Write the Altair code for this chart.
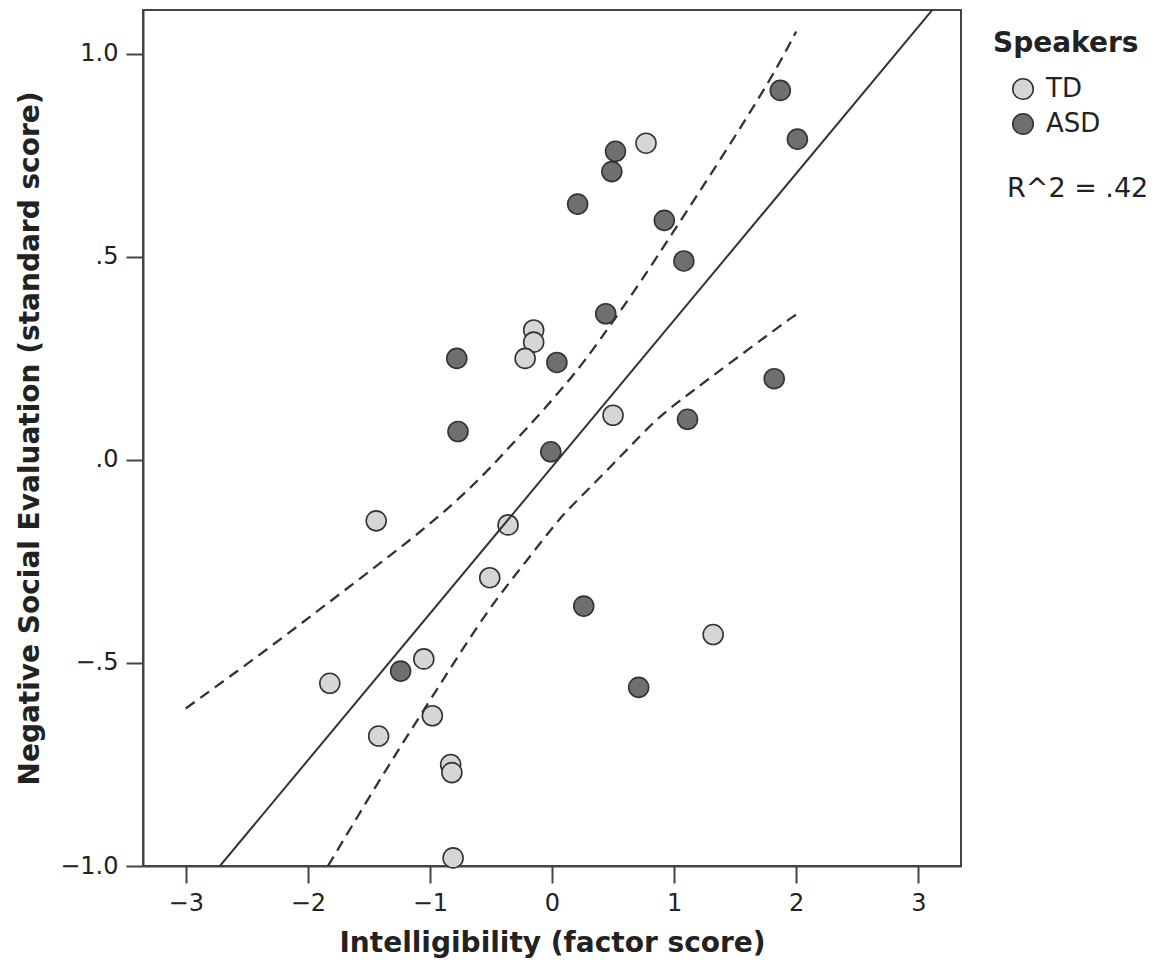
import altair as alt
import pandas as pd

# ---- data ----
td_x = [0.77, -0.15, -0.15, -0.22, 0.50, -1.44, -0.36, -0.51, 1.32, -1.82, -1.05, -0.98, -1.42, -0.83, -0.82, -0.81]
td_y = [0.78, 0.32, 0.29, 0.25, 0.11, -0.15, -0.16, -0.29, -0.43, -0.55, -0.49, -0.63, -0.68, -0.75, -0.77, -0.98]

asd_x = [1.87, 2.01, 0.52, 0.49, 0.21, 0.92, 1.08, 0.44, -0.78, 0.04, 1.82, 1.11, -0.77, -0.01, 0.26, 0.71, -1.24]
asd_y = [0.91, 0.79, 0.76, 0.71, 0.63, 0.59, 0.49, 0.36, 0.25, 0.24, 0.20, 0.10, 0.07, 0.02, -0.36, -0.56, -0.52]

fit_x = [-2.72, 3.12]
fit_y = [-1.0, 1.11]

upper_x = [-3.0, -2.30, -1.59, -1.05, -0.665, -0.366, 0.178, 0.45, 0.72, 0.99, 1.40, 1.81, 2.0]
upper_y = [-0.612, -0.46, -0.296, -0.172, -0.07, 0.025, 0.205, 0.32, 0.435, 0.56, 0.749, 0.946, 1.055]

lower_x = [-1.835, -1.345, -0.96, -0.53, -0.20, 0.07, 0.21, 0.59, 0.86, 1.05, 1.27, 1.97, 2.0]
lower_y = [-1.0, -0.754, -0.574, -0.369, -0.246, -0.14, -0.099, 0.017, 0.103, 0.146, 0.197, 0.353, 0.358]

groups = ["TD", "ASD"]
group_colors = ["#d6d6d6", "#6f6f6f"]

x_ticks = [-3, -2, -1, 0, 1, 2, 3]
x_tick_labels = ["−3", "−2", "−1", "0", "1", "2", "3"]
y_ticks = [-1.0, -0.5, 0.0, 0.5, 1.0]
y_tick_labels = ["−1.0", "−.5", ".0", ".5", "1.0"]

r2_label = "R^2 = .42"

FONT = "DejaVu Sans"


def label_expr(values, labels):
    expr = "''"
    for v, l in reversed(list(zip(values, labels))):
        expr = f"abs(datum.value - ({v})) < 1e-6 ? '{l}' : " + expr
    return expr


pts = pd.DataFrame({
    "x": td_x + asd_x,
    "y": td_y + asd_y,
    "Speakers": ["TD"] * len(td_x) + ["ASD"] * len(asd_x),
})
fit = pd.DataFrame({"x": fit_x, "y": fit_y})
ci = pd.DataFrame({
    "x": upper_x + lower_x,
    "y": upper_y + lower_y,
    "side": ["upper"] * len(upper_x) + ["lower"] * len(lower_x),
})

xscale = alt.Scale(domain=[-3.35, 3.35], nice=False, zero=False)
yscale = alt.Scale(domain=[-1.0, 1.108], nice=False, zero=False)

x_enc = alt.X(
    "x:Q", scale=xscale,
    axis=alt.Axis(values=x_ticks, labelExpr=label_expr(x_ticks, x_tick_labels),
                  title="Intelligibility (factor score)", labelPadding=8, titlePadding=14),
)
y_enc = alt.Y(
    "y:Q", scale=yscale,
    axis=alt.Axis(values=y_ticks, labelExpr=label_expr(y_ticks, y_tick_labels),
                  title="Negative Social Evaluation (standard score)", labelPadding=8, titlePadding=15),
)

points = alt.Chart(pts).mark_circle(
    size=400, opacity=1, stroke="#333333", strokeWidth=1.6
).encode(
    x=x_enc,
    y=y_enc,
    color=alt.Color(
        "Speakers:N",
        scale=alt.Scale(domain=groups, range=group_colors),
        legend=alt.Legend(
            title="Speakers", orient="none", legendX=850, legendY=20, padding=0,
            titleFont=FONT, titleFontSize=28, titleFontWeight="bold", titleColor="#222",
            titlePadding=18, labelFont=FONT, labelFontSize=26, labelColor="#222",
            symbolType="circle", symbolSize=420, symbolStrokeColor="#333333",
            symbolStrokeWidth=1.6, symbolOpacity=1, symbolOffset=17, labelOffset=10,
            rowPadding=7,
        ),
    ),
)

fit_line = alt.Chart(fit).mark_line(color="#333333", strokeWidth=2, clip=True).encode(
    x="x:Q", y="y:Q"
)

ci_lines = alt.Chart(ci).mark_line(
    color="#333333", strokeWidth=2.3, strokeDash=[11, 7], clip=True, interpolate="basis"
).encode(x="x:Q", y="y:Q", detail="side:N")

r2_text = alt.Chart(pd.DataFrame({"t": [r2_label]})).mark_text(
    align="left", baseline="middle", font=FONT, fontSize=27, color="#222"
).encode(x=alt.value(864), y=alt.value(179), text="t:N")

chart = alt.layer(points, fit_line, ci_lines, r2_text).properties(
    width=818, height=856,
    autosize=alt.AutoSizeParams(type="none"),
    padding={"left": 135, "top": 2, "right": 197, "bottom": 101},
).configure_view(
    stroke="#444444", strokeWidth=2
).configure_axis(
    grid=False, domainColor="#444444", domainWidth=2, tickColor="#444444", tickWidth=2,
    tickSize=17, labelFont=FONT, labelFontSize=24, labelColor="#222",
    titleFont=FONT, titleFontSize=28, titleFontWeight="bold", titleColor="#222",
)

chart.save("out.html", embed_options={"renderer": "svg", "actions": False})
